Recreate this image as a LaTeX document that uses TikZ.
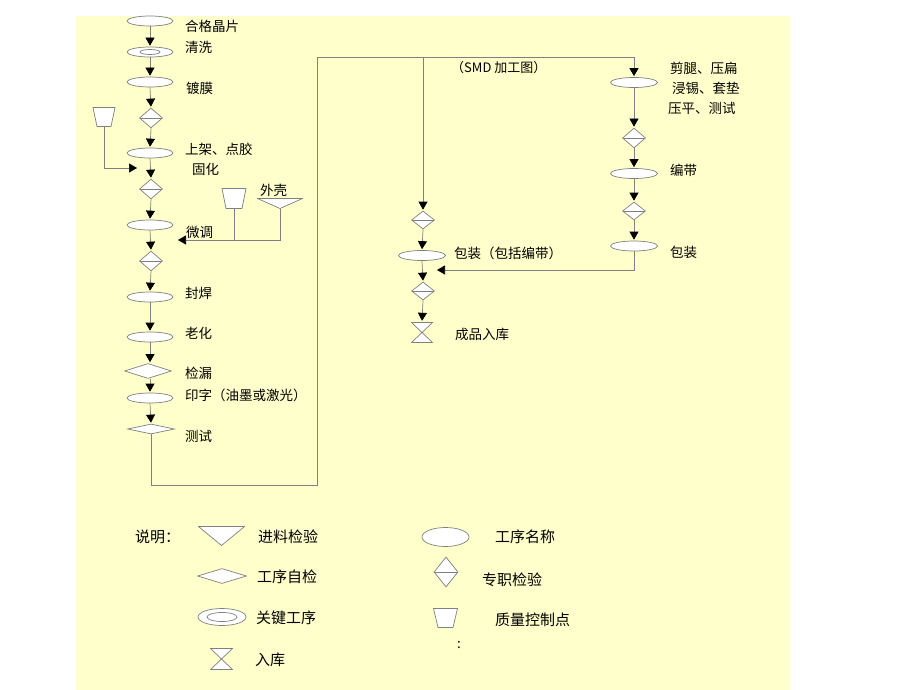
\documentclass[tikz,border=0pt]{standalone}
\usepackage{fontspec}
\setmainfont{Noto Sans CJK SC}
\usetikzlibrary{shapes.geometric,arrows.meta}
\definecolor{bg}{RGB}{255,255,204}
\definecolor{ln}{RGB}{128,128,128}
\begin{document}
\begin{tikzpicture}[x=1pt,y=-1pt,
  line/.style={draw=ln,line width=0.7pt},
  arr/.style={line,shorten >=1pt,-{Triangle[width=9pt,length=8pt,color=black]}},
  proc/.style={ellipse,draw=ln,fill=white,line width=0.7pt,minimum width=46pt,minimum height=10pt,inner sep=0pt},
  keyproc/.style n args={2}{proc,path picture={\draw[ln,line width=0.7pt] (path picture bounding box.center) ellipse [x radius=#1, y radius=#2];}},
  insp/.style={diamond,draw=ln,fill=white,line width=0.7pt,minimum width=23pt,minimum height=20pt,inner sep=0pt,
    path picture={\draw[ln,line width=0.7pt] (path picture bounding box.west) -- (path picture bounding box.east);}},
  selfck/.style={diamond,draw=ln,fill=white,line width=0.7pt,minimum width=47pt,minimum height=15pt,inner sep=0pt},
  tri/.style={rectangle,inner sep=0pt,path picture={\filldraw[draw=ln,fill=white,line width=0.7pt]
    ([xshift=0.5pt,yshift=-0.5pt]path picture bounding box.north west) --
    ([xshift=-0.5pt,yshift=-0.5pt]path picture bounding box.north east) --
    ([yshift=0.5pt]path picture bounding box.south) -- cycle;}},
  trap/.style={rectangle,inner sep=0pt,path picture={\filldraw[draw=ln,fill=white,line width=0.7pt]
    ([xshift=0.5pt,yshift=-0.5pt]path picture bounding box.north west) --
    ([xshift=-0.5pt,yshift=-0.5pt]path picture bounding box.north east) --
    ([xshift=-#1,yshift=0.5pt]path picture bounding box.south east) --
    ([xshift=#1,yshift=0.5pt]path picture bounding box.south west) -- cycle;}},
  hour/.style={rectangle,inner sep=0pt,path picture={\filldraw[draw=ln,fill=white,line width=0.7pt]
    ([xshift=0.5pt,yshift=-0.5pt]path picture bounding box.north west) --
    ([xshift=-0.5pt,yshift=-0.5pt]path picture bounding box.north east) --
    ([xshift=0.5pt,yshift=0.5pt]path picture bounding box.south west) --
    ([xshift=-0.5pt,yshift=0.5pt]path picture bounding box.south east) -- cycle;}},
  lbl/.style={anchor=west,inner sep=0pt,font=\fontsize{13.5pt}{15pt}\selectfont},
  leg/.style={anchor=west,inner sep=0pt,font=\fontsize{15pt}{17pt}\selectfont}
]
\fill[white] (0,0) rectangle (920,690);
\useasboundingbox (0,0) rectangle (920,690);
\fill[bg] (76,16) rectangle (790,690);

% main column
\node[proc] (A1) at (150,21) {};
\node[keyproc={10pt}{2.5pt}] (A2) at (150,52) {};
\node[proc] (A3) at (150,82) {};
\node[insp] (A4) at (151,118) {};
\node[proc] (A5) at (150,153) {};
\node[insp] (A6) at (151,189) {};
\node[proc] (A7) at (150,225) {};
\node[insp] (A8) at (151,261) {};
\node[proc] (A9) at (150,297) {};
\node[proc] (A10) at (150,337) {};
\node[selfck] (A11) at (148,371) {};
\node[proc] (A12) at (150,398) {};
\node[selfck,minimum height=10pt] (A13) at (151,429) {};

\node[trap=4.5pt,minimum width=23pt,minimum height=20pt] (Q1) at (104,117) {};
\node[trap=4.5pt,minimum width=25pt,minimum height=21pt] (Q2) at (234,198.5) {};
\node[tri,minimum width=46pt,minimum height=11pt] (T1) at (280,203.5) {};

\draw[arr] (A1) -- (A2);
\draw[arr] (A2) -- (A3);
\draw[arr] (A3.south) -- (A4.north);
\draw[arr] (A4.south) -- (A5.north);
\draw[arr] (A5.south) -- (A6.north);
\draw[arr] (A6.south) -- (A7.north);
\draw[arr] (A7.south) -- (A8.north);
\draw[arr] (A8.south) -- (A9.north);
\draw[arr] (A9.south) -- (A10.north);
\draw[arr] (A10.south) -- (A10.south |- A11.north);
\draw[arr] (A12.north |- A11.south) -- (A12.north);
\draw[arr] (A12.south) -- (A13.north);

\coordinate (q1e) at (138,168);
\draw[arr] (Q1.south) |- (q1e);
\coordinate (w1) at (177,240);
\draw[line] (Q2.south) -- (Q2.south |- w1);
\draw[arr] (T1.south) |- (w1);

% loop to the SMD part
\coordinate (lr) at (317,485);
\coordinate (tm) at (423,57);
\coordinate (tr) at (634,57);
\draw[line] (A13.south) |- (lr) |- (tr);

% middle column
\node[insp,minimum height=18pt] (B1) at (423,220) {};
\node[proc,minimum width=47pt] (B2) at (422,255.5) {};
\node[insp,minimum height=18pt] (B3) at (423,291) {};
\node[hour,minimum width=22pt,minimum height=21pt] (B4) at (422,332.5) {};
\draw[arr] (tm) -- (B1.north);
\draw[arr] (B1.south) -- (B2.south |- B2.north);
\draw[arr] (B2.south) -- (B3.north);
\draw[arr] (B3.south) -- (B4.north);

% right column
\node[proc,minimum width=47pt] (C1) at (634,82.5) {};
\node[insp] (C2) at (634,138) {};
\node[proc,minimum width=47pt] (C3) at (634,173.5) {};
\node[insp,minimum height=18pt] (C4) at (634,211) {};
\node[proc,minimum width=47pt] (C5) at (634,246) {};
\draw[arr] (tr) -- (C1.north);
\draw[arr] (C1.south) -- (C2.north);
\draw[arr] (C2.south) -- (C3.north);
\draw[arr] (C3.south) -- (C4.north);
\draw[arr] (C4.south) -- (C5.north);
\coordinate (b23) at (436,270);
\draw[arr] (C5.south) |- (b23);

% labels
\node[lbl] (t1) at (185,26) {合格晶片};
\node[lbl] (t2) at (185,47) {清洗};
\node[lbl] (t3) at (186,88) {镀膜};
\node[lbl] (t4) at (185,149) {上架、点胶};
\node[lbl] (t5) at (192,169) {固化};
\node[lbl] (t6) at (260,190) {外壳};
\node[lbl] (t7) at (186,232) {微调};
\node[lbl] (t8) at (185,293) {封焊};
\node[lbl] (t9) at (185,333) {老化};
\node[lbl] (t10) at (185,373) {检漏};
\node[lbl] (t11) at (185,395) {印字（油墨或激光）};
\node[lbl] (t12) at (185,436) {测试};
\node[lbl,font=\fontsize{13pt}{15pt}\selectfont] (t13) at (451,68) {（SMD 加工图）};
\node[lbl] (t14) at (670,68) {剪腿、压扁};
\node[lbl] (t15) at (672,88) {浸锡、套垫};
\node[lbl] (t16) at (668,108) {压平、测试};
\node[lbl] (t17) at (670,170) {编带};
\node[lbl] (t18) at (670,252) {包装};
\node[lbl] (t19) at (454,253) {包装（包括编带）};
\node[lbl] (t20) at (455,334) {成品入库};

% legend
\node[leg] (s0) at (135,537) {说明：};
\node[tri,minimum width=47pt,minimum height=20pt] (L1) at (221.5,536) {};
\node[leg] (s1) at (258,537) {进料检验};
\node[proc,minimum width=47pt,minimum height=19pt] (L2) at (445.5,537) {};
\node[leg] (s2) at (495,537) {工序名称};
\node[selfck,minimum width=49pt] (L3) at (222,576) {};
\node[leg] (s3) at (257,577) {工序自检};
\node[insp,minimum width=24pt,minimum height=30pt] (L4) at (446,572) {};
\node[leg] (s4) at (482,580) {专职检验};
\node[keyproc={15pt}{4.5pt},minimum width=48pt,minimum height=17pt] (L5) at (222,617) {};
\node[leg] (s5) at (256,618) {关键工序};
\node[trap=5pt,minimum width=25pt,minimum height=20pt] (L6) at (445.5,618) {};
\node[leg] (s6) at (495,620) {质量控制点};
\node[hour,minimum width=23pt,minimum height=22pt] (L7) at (221.5,659) {};
\node[leg] (s7) at (255,660) {入库};
\node[lbl] (s8) at (457,645) {:};
\end{tikzpicture}
\end{document}
